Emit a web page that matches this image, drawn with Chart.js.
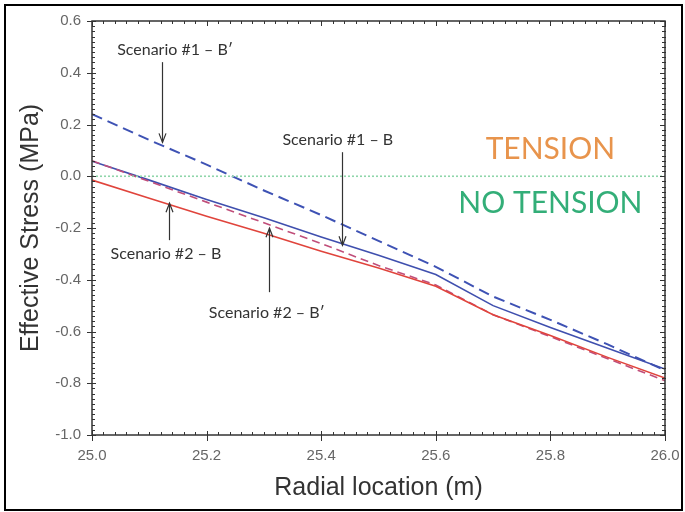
<!DOCTYPE html>
<html><head><meta charset="utf-8">
<script src="https://cdn.jsdelivr.net/npm/chart.js@4.4.1/dist/chart.umd.min.js"></script>
<style>html,body{margin:0;padding:0;background:#fff;overflow:hidden}#wrap{width:685px;height:512px;position:relative}</style>
</head><body><div id="wrap"><canvas id="c" width="685" height="512"></canvas></div>
<script>
// ---- data ----
const radialLocation  = [25.0, 25.1, 25.2, 25.3, 25.4, 25.5, 25.6, 25.7, 25.8, 25.9, 26.0];
const scenario1BPrime = [0.24, 0.14, 0.045, -0.055, -0.15, -0.25, -0.35, -0.465, -0.555, -0.65, -0.75];
const scenario1B      = [0.058, -0.015, -0.09, -0.16, -0.235, -0.305, -0.38, -0.50, -0.585, -0.665, -0.745];
const scenario2B      = [-0.015, -0.085, -0.155, -0.22, -0.29, -0.355, -0.425, -0.535, -0.615, -0.70, -0.78];
const scenario2BPrime = [0.06, -0.02, -0.10, -0.18, -0.26, -0.345, -0.42, -0.535, -0.62, -0.705, -0.79];
const zeroLineX = [25.0, 26.0];
const zeroLineY = [0.0, 0.0];
const xTickValues = [25.0, 25.2, 25.4, 25.6, 25.8, 26.0];
const yTickValues = [-1.0, -0.8, -0.6, -0.4, -0.2, 0.0, 0.2, 0.4, 0.6];
const xAxisTitle = 'Radial location (m)';
const yAxisTitle = 'Effective Stress (MPa)';

// annotation labels (in data units)
const annotations = [
  {text:'Scenario #1 \u2013 B\u2032', lx:25.145, ly:0.487, ax:25.122, fromY:0.441, toY:0.131},
  {text:'Scenario #1 \u2013 B',       lx:25.429, ly:0.139, ax:25.436, fromY:0.093, toY:-0.267},
  {text:'Scenario #2 \u2013 B',       lx:25.129, ly:-0.298, ax:25.134, fromY:-0.247, toY:-0.104},
  {text:'Scenario #2 \u2013 B\u2032', lx:25.305, ly:-0.529, ax:25.309, fromY:-0.448, toY:-0.201}
];
const regionLabels = [
  {text:'TENSION', x:25.80, y:0.104, color:'#E8944C'},
  {text:'NO TENSION', x:25.80, y:-0.104, color:'#33AE78'}
];

const pts = (xs, ys) => xs.map((x, i) => ({x, y: ys[i]}));

const decor = {
  id: 'decor',
  beforeDraw(chart) {
    const c = chart.ctx; c.save(); c.fillStyle = '#fff'; c.fillRect(0, 0, chart.width, chart.height); c.restore();
  },
  afterDatasetsDraw(chart) {
    const c = chart.ctx, xs = chart.scales.x, ys = chart.scales.y;
    c.save();
    c.textAlign = 'center'; c.textBaseline = 'middle';
    c.font = '30px Lato';
    regionLabels.forEach(r => { c.fillStyle = r.color; c.fillText(r.text, xs.getPixelForValue(r.x), ys.getPixelForValue(r.y)); });
    c.font = '16px Lato'; c.fillStyle = '#333';
    annotations.forEach(a => {
      c.fillText(a.text, xs.getPixelForValue(a.lx), ys.getPixelForValue(a.ly));
      const x = Math.round(xs.getPixelForValue(a.ax)) + 0.5;
      const y0 = ys.getPixelForValue(a.fromY), y1 = ys.getPixelForValue(a.toY);
      const dir = y1 > y0 ? 1 : -1;
      c.strokeStyle = '#333'; c.lineWidth = 1.2;
      c.beginPath(); c.moveTo(x, y0); c.lineTo(x, y1); c.stroke();
      c.beginPath(); c.moveTo(x - 3.5, y1 - dir * 9); c.lineTo(x, y1); c.lineTo(x + 3.5, y1 - dir * 9); c.stroke();
    });
    c.restore();
  },
  afterDraw(chart) {
    const c = chart.ctx, xs = chart.scales.x, ys = chart.scales.y, a = chart.chartArea;
    c.save();
    c.strokeStyle = '#333'; c.lineWidth = 1;
    c.beginPath();
    for (let i = 0; i <= 50; i++) {
      const v = 25 + i * 0.02, px = Math.round(xs.getPixelForValue(v)) + 0.5, major = i % 10 === 0;
      if (major) { c.moveTo(px, a.bottom + 6); c.lineTo(px, a.bottom - 4); c.moveTo(px, a.top); c.lineTo(px, a.top + 5); }
      else { c.moveTo(px, a.bottom); c.lineTo(px, a.bottom - 3); c.moveTo(px, a.top); c.lineTo(px, a.top + 3); }
    }
    for (let i = 0; i <= 80; i++) {
      const v = -1 + i * 0.02, py = Math.round(ys.getPixelForValue(v)) + 0.5, major = i % 10 === 0;
      if (major) { c.moveTo(a.left - 5, py); c.lineTo(a.left + 4, py); c.moveTo(a.right, py); c.lineTo(a.right - 5, py); }
      else { c.moveTo(a.left, py); c.lineTo(a.left + 3, py); c.moveTo(a.right + 1, py); c.lineTo(a.right - 3, py); }
    }
    c.stroke();
    c.lineWidth = 1.5; c.strokeStyle = '#333';
    c.strokeRect(a.left, a.top, a.right - a.left, a.bottom - a.top);
    c.lineWidth = 2; c.strokeStyle = '#000';
    c.strokeRect(5, 5, 677, 505);
    c.restore();
  }
};

new Chart(document.getElementById('c'), {
  type: 'line',
  data: {
    datasets: [
      {label: 'No tension line', data: pts(zeroLineX, zeroLineY), borderColor: '#8FD6AA', borderWidth: 1.6, borderDash: [2, 2]},
      {label: 'Scenario #2 \u2013 B', data: pts(radialLocation, scenario2B), borderColor: '#E0443C', borderWidth: 1.6},
      {label: 'Scenario #2 \u2013 B\u2032', data: pts(radialLocation, scenario2BPrime), borderColor: '#C04E7A', borderWidth: 1.6, borderDash: [8, 5]},
      {label: 'Scenario #1 \u2013 B', data: pts(radialLocation, scenario1B), borderColor: '#3F4FAE', borderWidth: 1.6},
      {label: 'Scenario #1 \u2013 B\u2032', data: pts(radialLocation, scenario1BPrime), borderColor: '#3E52B4', borderWidth: 2, borderDash: [11, 6]}
    ]
  },
  options: {
    responsive: false, animation: false, devicePixelRatio: 1,
    layout: {padding: {left: 0, top: 21, right: 20, bottom: 0}},
    elements: {point: {radius: 0}, line: {tension: 0}},
    plugins: {legend: {display: false}, tooltip: {enabled: false}},
    scales: {
      x: {
        type: 'linear', min: 25, max: 26,
        afterBuildTicks: s => { s.ticks = xTickValues.map(v => ({value: v})); },
        afterFit: s => { s.height = 77; s.paddingLeft = 0; s.paddingRight = 0; },
        grid: {display: false, drawTicks: false},
        border: {display: false},
        ticks: {padding: 12, color: '#666', font: {family: 'Liberation Sans', size: 15}, callback: v => Number(v).toFixed(1), maxRotation: 0},
        title: {display: true, text: xAxisTitle, color: '#333', font: {family: 'Liberation Sans', size: 25}, padding: {top: 0, bottom: 9}}
      },
      y: {
        type: 'linear', min: -1.0, max: 0.6,
        afterBuildTicks: s => { s.ticks = yTickValues.map(v => ({value: v})); },
        afterFit: s => { s.width = 92; s.paddingTop = 0; s.paddingBottom = 0; },
        grid: {display: false, drawTicks: false},
        border: {display: false},
        ticks: {padding: 11, color: '#666', font: {family: 'Liberation Sans', size: 15}, callback: v => Number(v).toFixed(1)},
        title: {display: true, text: yAxisTitle, color: '#333', font: {family: 'Liberation Sans', size: 25}, padding: {top: 16, bottom: 0}}
      }
    }
  },
  plugins: [decor]
});
</script>
</body></html>
